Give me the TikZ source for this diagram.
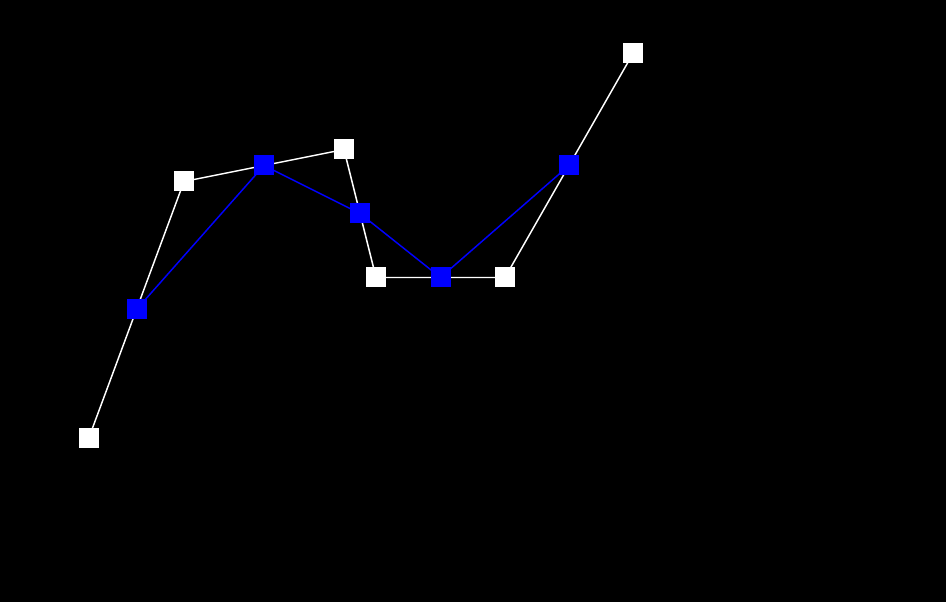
\documentclass[tikz,border=0pt]{standalone}
\usepackage{tikz}

\begin{document}
\begin{tikzpicture}[x=0.75pt,y=-0.75pt,
  ctrl/.style={draw=none,fill=white,minimum size=15pt,inner sep=0pt},
  mid/.style={draw=none,fill=blue,minimum size=15pt,inner sep=0pt},
  poly/.style={white,line width=1.1pt},
  half/.style={blue,line width=1.1pt}]
\fill[black] (0,0) rectangle (946,602);
\useasboundingbox (0,0) rectangle (946,602);
% control polygon
\coordinate (p0) at (89,437.5);
\coordinate (p1) at (184,181.5);
\coordinate (p2) at (344,149.5);
\coordinate (p3) at (376,277.5);
\coordinate (p4) at (505,277.5);
\coordinate (p5) at (633,53.5);
\draw[poly] (p0)--(p1)--(p2)--(p3)--(p4)--(p5);
% midpoints
\path (p0) -- (p1) coordinate[pos=0.5] (m0);
\path (p1) -- (p2) coordinate[pos=0.5] (m1);
\path (p2) -- (p3) coordinate[pos=0.5] (m2);
\path (p3) -- (p4) coordinate[pos=0.5] (m3);
\path (p4) -- (p5) coordinate[pos=0.5] (m4);
\draw[half] (m0)--(m1)--(m2)--(m3)--(m4);
\foreach \i in {0,...,5} \node[ctrl] (c\i) at (p\i) {};
\foreach \i in {0,...,4} \node[mid] (h\i) at (m\i) {};
\end{tikzpicture}
\end{document}
